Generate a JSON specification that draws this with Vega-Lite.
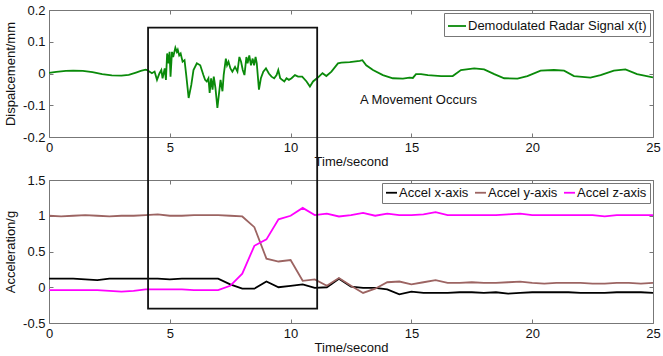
{
  "$schema": "https://vega.github.io/schema/vega-lite/v6.json",
  "padding": {"left": 4, "top": 4, "right": 0, "bottom": 1},
  "bounds": "flush",
  "spacing": 43,
  "resolve": {"scale": {"color": "independent"}, "legend": {"color": "independent"}},
  "config": {
    "font": "Liberation Sans",
    "view": {"stroke": null},
    "axis": {
      "grid": false,
      "domainColor": "#777777",
      "tickColor": "#777777",
      "tickSize": -4,
      "labelPadding": 8,
      "labelFont": "Liberation Sans",
      "titleFont": "Liberation Sans",
      "labelFontSize": 13,
      "titleFontSize": 13,
      "titleFontWeight": "normal",
      "labelColor": "#111111",
      "titleColor": "#111111",
      "labelFlush": false,
      "labelOverlap": false
    },
    "legend": {
      "labelFont": "Liberation Sans",
      "labelFontSize": 13,
      "labelColor": "#111111",
      "labelLimit": 400,
      "strokeColor": "#777777",
      "fillColor": "white",
      "padding": 3,
      "offset": 3,
      "symbolType": "stroke",
      "labelOffset": 1
    }
  },
  "datasets": {
    "radar": [
      {"t":0,"d":0.002},{"t":0.3,"d":0.005},{"t":0.7,"d":0.008},{"t":1.0,"d":0.009},{"t":1.4,"d":0.008},{"t":1.8,"d":0.004},{"t":2.2,"d":-0.002},{"t":2.6,"d":-0.006},{"t":3.0,"d":-0.007},{"t":3.3,"d":-0.004},{"t":3.6,"d":0.003},{"t":3.8,"d":0.008},{"t":4.0,"d":0.012},{"t":4.06,"d":0.011},{"t":4.26,"d":0.001},{"t":4.37,"d":0.006},{"t":4.47,"d":-0.02},{"t":4.57,"d":0.0},{"t":4.65,"d":0.011},{"t":4.7,"d":-0.015},{"t":4.79,"d":0.016},{"t":4.84,"d":-0.02},{"t":4.89,"d":0.063},{"t":4.95,"d":0.032},{"t":4.99,"d":0.068},{"t":5.03,"d":-0.01},{"t":5.09,"d":0.068},{"t":5.14,"d":0.052},{"t":5.23,"d":0.081},{"t":5.29,"d":0.068},{"t":5.33,"d":0.075},{"t":5.39,"d":0.057},{"t":5.45,"d":0.063},{"t":5.53,"d":0.037},{"t":5.61,"d":0.042},{"t":5.68,"d":-0.005},{"t":5.78,"d":-0.077},{"t":5.89,"d":-0.036},{"t":5.98,"d":0.011},{"t":6.12,"d":0.032},{"t":6.26,"d":0.026},{"t":6.39,"d":-0.005},{"t":6.46,"d":-0.02},{"t":6.53,"d":-0.025},{"t":6.6,"d":-0.015},{"t":6.65,"d":-0.061},{"t":6.71,"d":-0.015},{"t":6.77,"d":-0.051},{"t":6.82,"d":-0.01},{"t":6.89,"d":-0.046},{"t":6.97,"d":-0.108},{"t":7.04,"d":-0.061},{"t":7.1,"d":-0.02},{"t":7.18,"d":-0.056},{"t":7.23,"d":-0.005},{"t":7.32,"d":0.047},{"t":7.37,"d":0.026},{"t":7.43,"d":0.037},{"t":7.51,"d":0.016},{"t":7.59,"d":0.006},{"t":7.7,"d":0.021},{"t":7.8,"d":0.006},{"t":7.88,"d":0.052},{"t":7.95,"d":0.037},{"t":8.02,"d":0.011},{"t":8.09,"d":-0.005},{"t":8.17,"d":0.052},{"t":8.22,"d":0.032},{"t":8.29,"d":0.057},{"t":8.36,"d":0.026},{"t":8.43,"d":0.047},{"t":8.49,"d":0.026},{"t":8.55,"d":0.052},{"t":8.6,"d":0.032},{"t":8.69,"d":-0.051},{"t":8.77,"d":-0.015},{"t":8.87,"d":0.006},{"t":8.98,"d":0.016},{"t":9.1,"d":0.0},{"t":9.21,"d":-0.01},{"t":9.32,"d":-0.015},{"t":9.42,"d":-0.005},{"t":9.49,"d":0.011},{"t":9.57,"d":-0.015},{"t":9.65,"d":-0.02},{"t":9.74,"d":-0.025},{"t":9.83,"d":-0.015},{"t":9.93,"d":-0.02},{"t":10.04,"d":-0.015},{"t":10.18,"d":-0.005},{"t":10.31,"d":-0.01},{"t":10.48,"d":-0.01},{"t":10.66,"d":-0.025},{"t":10.8,"d":-0.041},{"t":10.93,"d":-0.025},{"t":11.14,"d":-0.012},{"t":11.32,"d":0.001},{"t":11.48,"d":-0.008},{"t":11.69,"d":0.006},{"t":11.96,"d":0.032},{"t":12.1,"d":0.034},{"t":12.45,"d":0.036},{"t":12.86,"d":0.04},{"t":12.97,"d":0.042},{"t":13.13,"d":0.026},{"t":13.41,"d":0.011},{"t":13.82,"d":-0.005},{"t":14.23,"d":-0.015},{"t":14.65,"d":-0.016},{"t":14.92,"d":-0.013},{"t":15.06,"d":-0.014},{"t":15.19,"d":-0.002},{"t":15.4,"d":-0.002},{"t":15.68,"d":-0.005},{"t":16.23,"d":-0.008},{"t":16.71,"d":-0.008},{"t":17.05,"d":0.011},{"t":17.6,"d":0.016},{"t":18.01,"d":0.013},{"t":18.43,"d":-0.002},{"t":18.84,"d":-0.015},{"t":19.39,"d":-0.016},{"t":19.8,"d":-0.008},{"t":20.35,"d":0.009},{"t":20.9,"d":0.011},{"t":21.32,"d":0.009},{"t":21.73,"d":-0.008},{"t":22.41,"d":-0.013},{"t":22.83,"d":-0.005},{"t":23.38,"d":0.009},{"t":23.86,"d":0.013},{"t":24.34,"d":-0.002},{"t":25.0,"d":-0.012}
    ],
    "note": [{"t": 12.87, "d": -0.083, "label": "A Movement Occurs"}],
    "box": [{"t0": 4.1, "t1": 11.1, "a0": -0.3, "a1": 3.63}],
    "accel": [
      {"t":0,"s":"Accel x-axis","a":0.12},{"t":0.5,"s":"Accel x-axis","a":0.12},{"t":1,"s":"Accel x-axis","a":0.12},{"t":1.5,"s":"Accel x-axis","a":0.11},{"t":2,"s":"Accel x-axis","a":0.1},{"t":2.5,"s":"Accel x-axis","a":0.12},{"t":3,"s":"Accel x-axis","a":0.12},{"t":3.5,"s":"Accel x-axis","a":0.12},{"t":4,"s":"Accel x-axis","a":0.12},{"t":4.5,"s":"Accel x-axis","a":0.12},{"t":5,"s":"Accel x-axis","a":0.11},{"t":5.5,"s":"Accel x-axis","a":0.12},{"t":6,"s":"Accel x-axis","a":0.12},{"t":6.5,"s":"Accel x-axis","a":0.12},{"t":7,"s":"Accel x-axis","a":0.12},{"t":7.5,"s":"Accel x-axis","a":0.04},{"t":8,"s":"Accel x-axis","a":-0.02},{"t":8.5,"s":"Accel x-axis","a":-0.02},{"t":9,"s":"Accel x-axis","a":0.08},{"t":9.5,"s":"Accel x-axis","a":0.0},{"t":10,"s":"Accel x-axis","a":0.02},{"t":10.5,"s":"Accel x-axis","a":0.04},{"t":11,"s":"Accel x-axis","a":-0.01},{"t":11.5,"s":"Accel x-axis","a":0.0},{"t":12,"s":"Accel x-axis","a":0.12},{"t":12.5,"s":"Accel x-axis","a":0.01},{"t":13,"s":"Accel x-axis","a":-0.01},{"t":13.5,"s":"Accel x-axis","a":-0.01},{"t":14,"s":"Accel x-axis","a":-0.03},{"t":14.5,"s":"Accel x-axis","a":-0.1},{"t":15,"s":"Accel x-axis","a":-0.06},{"t":15.5,"s":"Accel x-axis","a":-0.08},{"t":16,"s":"Accel x-axis","a":-0.08},{"t":16.5,"s":"Accel x-axis","a":-0.08},{"t":17,"s":"Accel x-axis","a":-0.07},{"t":17.5,"s":"Accel x-axis","a":-0.07},{"t":18,"s":"Accel x-axis","a":-0.08},{"t":18.5,"s":"Accel x-axis","a":-0.07},{"t":19,"s":"Accel x-axis","a":-0.09},{"t":19.5,"s":"Accel x-axis","a":-0.08},{"t":20,"s":"Accel x-axis","a":-0.07},{"t":20.5,"s":"Accel x-axis","a":-0.07},{"t":21,"s":"Accel x-axis","a":-0.07},{"t":21.5,"s":"Accel x-axis","a":-0.07},{"t":22,"s":"Accel x-axis","a":-0.08},{"t":22.5,"s":"Accel x-axis","a":-0.08},{"t":23,"s":"Accel x-axis","a":-0.08},{"t":23.5,"s":"Accel x-axis","a":-0.07},{"t":24,"s":"Accel x-axis","a":-0.07},{"t":24.5,"s":"Accel x-axis","a":-0.07},{"t":25,"s":"Accel x-axis","a":-0.08},
      {"t":0,"s":"Accel y-axis","a":1.0},{"t":0.5,"s":"Accel y-axis","a":0.99},{"t":1,"s":"Accel y-axis","a":1.0},{"t":1.5,"s":"Accel y-axis","a":1.01},{"t":2,"s":"Accel y-axis","a":1.0},{"t":2.5,"s":"Accel y-axis","a":0.99},{"t":3,"s":"Accel y-axis","a":1.0},{"t":3.5,"s":"Accel y-axis","a":1.0},{"t":4,"s":"Accel y-axis","a":1.01},{"t":4.5,"s":"Accel y-axis","a":1.02},{"t":5,"s":"Accel y-axis","a":1.0},{"t":5.5,"s":"Accel y-axis","a":1.0},{"t":6,"s":"Accel y-axis","a":1.01},{"t":6.5,"s":"Accel y-axis","a":1.01},{"t":7,"s":"Accel y-axis","a":1.01},{"t":7.5,"s":"Accel y-axis","a":1.0},{"t":8,"s":"Accel y-axis","a":0.99},{"t":8.5,"s":"Accel y-axis","a":0.84},{"t":9,"s":"Accel y-axis","a":0.4},{"t":9.5,"s":"Accel y-axis","a":0.36},{"t":10,"s":"Accel y-axis","a":0.38},{"t":10.5,"s":"Accel y-axis","a":0.09},{"t":11,"s":"Accel y-axis","a":0.11},{"t":11.5,"s":"Accel y-axis","a":0.02},{"t":12,"s":"Accel y-axis","a":0.13},{"t":12.5,"s":"Accel y-axis","a":0.02},{"t":13,"s":"Accel y-axis","a":-0.08},{"t":13.5,"s":"Accel y-axis","a":-0.02},{"t":14,"s":"Accel y-axis","a":0.07},{"t":14.5,"s":"Accel y-axis","a":0.08},{"t":15,"s":"Accel y-axis","a":0.04},{"t":15.5,"s":"Accel y-axis","a":0.07},{"t":16,"s":"Accel y-axis","a":0.1},{"t":16.5,"s":"Accel y-axis","a":0.06},{"t":17,"s":"Accel y-axis","a":0.06},{"t":17.5,"s":"Accel y-axis","a":0.07},{"t":18,"s":"Accel y-axis","a":0.06},{"t":18.5,"s":"Accel y-axis","a":0.06},{"t":19,"s":"Accel y-axis","a":0.07},{"t":19.5,"s":"Accel y-axis","a":0.08},{"t":20,"s":"Accel y-axis","a":0.06},{"t":20.5,"s":"Accel y-axis","a":0.05},{"t":21,"s":"Accel y-axis","a":0.06},{"t":21.5,"s":"Accel y-axis","a":0.06},{"t":22,"s":"Accel y-axis","a":0.06},{"t":22.5,"s":"Accel y-axis","a":0.05},{"t":23,"s":"Accel y-axis","a":0.05},{"t":23.5,"s":"Accel y-axis","a":0.06},{"t":24,"s":"Accel y-axis","a":0.06},{"t":24.5,"s":"Accel y-axis","a":0.05},{"t":25,"s":"Accel y-axis","a":0.06},
      {"t":0,"s":"Accel z-axis","a":-0.04},{"t":0.5,"s":"Accel z-axis","a":-0.04},{"t":1,"s":"Accel z-axis","a":-0.04},{"t":1.5,"s":"Accel z-axis","a":-0.04},{"t":2,"s":"Accel z-axis","a":-0.04},{"t":2.5,"s":"Accel z-axis","a":-0.05},{"t":3,"s":"Accel z-axis","a":-0.06},{"t":3.5,"s":"Accel z-axis","a":-0.05},{"t":4,"s":"Accel z-axis","a":-0.03},{"t":4.5,"s":"Accel z-axis","a":-0.03},{"t":5,"s":"Accel z-axis","a":-0.03},{"t":5.5,"s":"Accel z-axis","a":-0.03},{"t":6,"s":"Accel z-axis","a":-0.04},{"t":6.5,"s":"Accel z-axis","a":-0.04},{"t":7,"s":"Accel z-axis","a":-0.04},{"t":7.5,"s":"Accel z-axis","a":0.02},{"t":8,"s":"Accel z-axis","a":0.19},{"t":8.5,"s":"Accel z-axis","a":0.58},{"t":9,"s":"Accel z-axis","a":0.67},{"t":9.5,"s":"Accel z-axis","a":0.95},{"t":10,"s":"Accel z-axis","a":1.0},{"t":10.5,"s":"Accel z-axis","a":1.11},{"t":11,"s":"Accel z-axis","a":1.01},{"t":11.5,"s":"Accel z-axis","a":1.03},{"t":12,"s":"Accel z-axis","a":0.99},{"t":12.5,"s":"Accel z-axis","a":1.01},{"t":13,"s":"Accel z-axis","a":1.04},{"t":13.5,"s":"Accel z-axis","a":1.0},{"t":14,"s":"Accel z-axis","a":1.03},{"t":14.5,"s":"Accel z-axis","a":1.01},{"t":15,"s":"Accel z-axis","a":1.01},{"t":15.5,"s":"Accel z-axis","a":1.02},{"t":16,"s":"Accel z-axis","a":1.05},{"t":16.5,"s":"Accel z-axis","a":1.01},{"t":17,"s":"Accel z-axis","a":1.01},{"t":17.5,"s":"Accel z-axis","a":1.01},{"t":18,"s":"Accel z-axis","a":1.01},{"t":18.5,"s":"Accel z-axis","a":1.01},{"t":19,"s":"Accel z-axis","a":1.02},{"t":19.5,"s":"Accel z-axis","a":1.03},{"t":20,"s":"Accel z-axis","a":1.01},{"t":20.5,"s":"Accel z-axis","a":1.01},{"t":21,"s":"Accel z-axis","a":1.01},{"t":21.5,"s":"Accel z-axis","a":1.01},{"t":22,"s":"Accel z-axis","a":1.01},{"t":22.5,"s":"Accel z-axis","a":1.01},{"t":23,"s":"Accel z-axis","a":0.99},{"t":23.5,"s":"Accel z-axis","a":1.01},{"t":24,"s":"Accel z-axis","a":1.01},{"t":24.5,"s":"Accel z-axis","a":1.01},{"t":25,"s":"Accel z-axis","a":1.01}
    ]
  },
  "vconcat": [
    {
      "width": 604,
      "height": 127,
      "layer": [
        {
          "data": {"name": "radar"},
          "mark": {"type": "line", "strokeWidth": 1.8, "clip": true},
          "encoding": {
            "x": {"field": "t", "type": "quantitative", "scale": {"domain": [0, 25], "nice": false, "zero": false},
                  "axis": {"orient": "bottom", "values": [0, 5, 10, 15, 20, 25], "title": "Time/second", "titlePadding": 1}},
            "y": {"field": "d", "type": "quantitative", "scale": {"domain": [-0.2, 0.2], "nice": false, "zero": false},
                  "axis": {"orient": "left", "values": [-0.2, -0.1, 0, 0.1, 0.2], "labelExpr": "toString(datum.value)", "title": "Dispalcement/mm", "titlePadding": 5}},
            "color": {"datum": "Demodulated Radar Signal x(t)", "type": "nominal",
                      "scale": {"domain": ["Demodulated Radar Signal x(t)"], "range": ["#0a8a0a"]},
                      "legend": {"title": null, "orient": "top-right", "symbolSize": 324, "symbolStrokeWidth": 1.8}}
          }
        },
        {
          "data": {"name": "note"},
          "mark": {"type": "text", "align": "left", "baseline": "middle", "fontSize": 13, "font": "Liberation Sans", "color": "#111111"},
          "encoding": {
            "x": {"field": "t", "type": "quantitative", "axis": {"orient": "top", "values": [0, 5, 10, 15, 20, 25], "labels": false, "title": null}},
            "y": {"field": "d", "type": "quantitative", "axis": {"orient": "right", "values": [-0.2, -0.1, 0, 0.1, 0.2], "labels": false, "title": null}},
            "text": {"field": "label"}
          }
        }
      ],
      "resolve": {"axis": {"x": "independent", "y": "independent"}}
    },
    {
      "width": 604,
      "height": 143,
      "layer": [
        {
          "data": {"name": "accel"},
          "mark": {"type": "line", "strokeWidth": 1.8, "clip": true},
          "encoding": {
            "x": {"field": "t", "type": "quantitative", "scale": {"domain": [0, 25], "nice": false, "zero": false},
                  "axis": {"orient": "bottom", "values": [0, 5, 10, 15, 20, 25], "title": "Time/second", "titlePadding": 1}},
            "y": {"field": "a", "type": "quantitative", "scale": {"domain": [-0.5, 1.5], "nice": false, "zero": false},
                  "axis": {"orient": "left", "values": [-0.5, 0, 0.5, 1, 1.5], "labelExpr": "toString(datum.value)", "title": "Acceleration/g", "titlePadding": 5}},
            "color": {"field": "s", "type": "nominal",
                      "scale": {"domain": ["Accel x-axis", "Accel y-axis", "Accel z-axis"], "range": ["#000000", "#9c6462", "#ff00ff"]},
                      "legend": {"title": null, "orient": "top-right", "direction": "horizontal", "symbolSize": 121, "symbolStrokeWidth": 1.8, "columnPadding": 2}}
          }
        },
        {
          "data": {"name": "box"},
          "mark": {"type": "rect", "fill": null, "fillOpacity": 0, "stroke": "#111111", "strokeWidth": 1.8, "clip": false},
          "encoding": {
            "x": {"field": "t0", "type": "quantitative", "axis": {"orient": "top", "values": [0, 5, 10, 15, 20, 25], "labels": false, "title": null}},
            "x2": {"field": "t1"},
            "y": {"field": "a0", "type": "quantitative", "axis": {"orient": "right", "values": [-0.5, 0, 0.5, 1, 1.5], "labels": false, "title": null}},
            "y2": {"field": "a1"}
          }
        }
      ],
      "resolve": {"axis": {"x": "independent", "y": "independent"}}
    }
  ]
}
